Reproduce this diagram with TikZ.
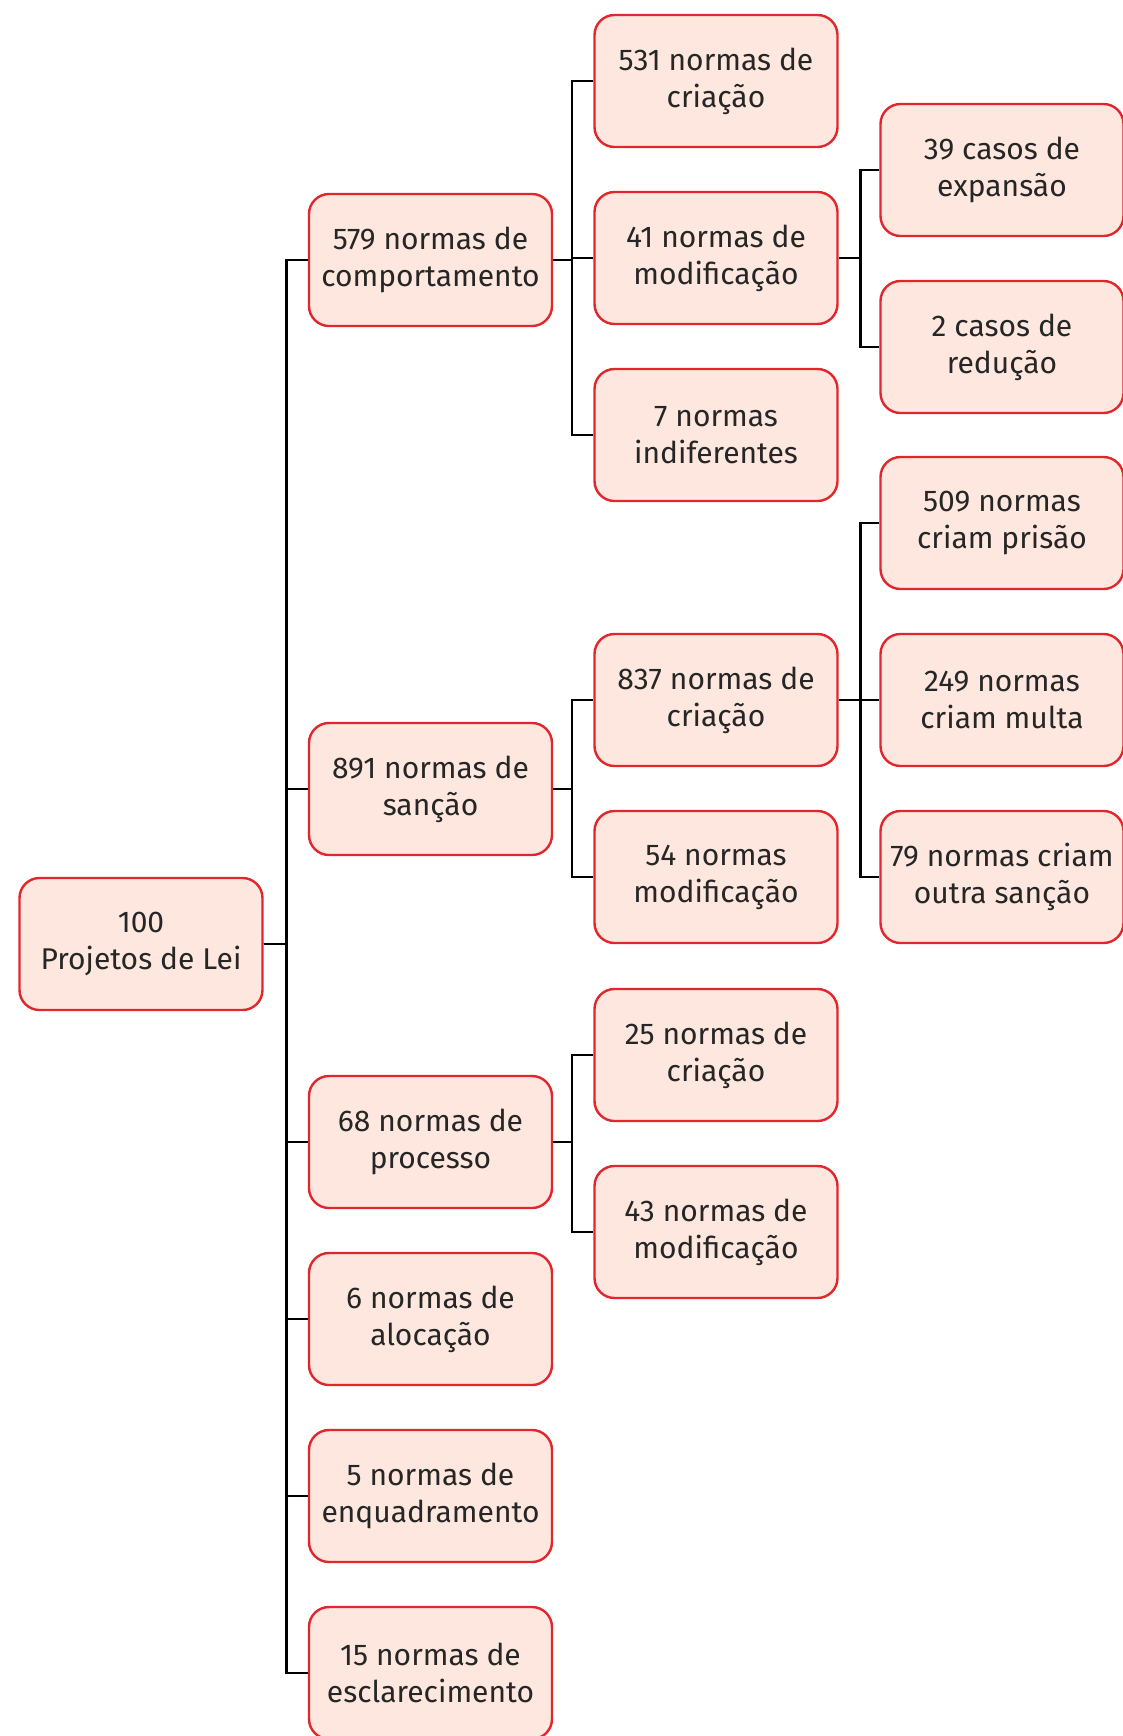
\documentclass[tikz,border=0pt]{standalone}
\usepackage{fontspec}
\setmainfont{Fira Sans}
\usetikzlibrary{positioning}
\definecolor{nrmred}{HTML}{E1262D}
\definecolor{nrmfill}{HTML}{FDE7DE}
\definecolor{nrmtext}{HTML}{262626}

\begin{document}
\begin{tikzpicture}[
    x=0.5pt, y=-0.5pt,
    node distance=21.3pt,
    normbox/.style={draw=nrmred, fill=nrmfill, line width=1.2pt, rounded corners=10pt, minimum width=121.5pt, minimum height=66pt, inner sep=2pt, align=center, text=nrmtext, font=\fontsize{15}{18.5}\selectfont},
    link/.style={line width=1.25pt, black},
]
    \useasboundingbox (0,0) rectangle (1123,1736);

    % root
    \node[normbox] (root) at (141,944) {100\\Projetos de Lei};

    % second level
    \node[normbox] (c579) at (430.5,260) {579 normas de\\comportamento};
    \node[normbox] (c891) at (430.5,789) {891 normas de\\sanção};
    \node[normbox] (c68) at (430.5,1142) {68 normas de\\processo};
    \node[normbox, below=of c68] (c6) {6 normas de\\alocação};
    \node[normbox, below=of c6] (c5) {5 normas de\\enquadramento};
    \node[normbox, below=of c5] (c15) {15 normas de\\esclarecimento};

    % third level
    \node[normbox] (c531) at (716,81) {531 normas de\\criação};
    \node[normbox, below=of c531] (c41) {41 normas de\\modificação};
    \node[normbox, below=of c41] (c7) {7 normas\\indiferentes};
    \node[normbox] (c837) at (716,700) {837 normas de\\criação};
    \node[normbox, below=of c837] (c54) {54 normas\\modificação};
    \node[normbox] (c25) at (716,1055) {25 normas de\\criação};
    \node[normbox, below=of c25] (c43) {43 normas de\\modificação};

    % fourth level
    \node[normbox] (c39) at (1002,170) {39 casos de\\expansão};
    \node[normbox, below=of c39] (c2) {2 casos de\\redução};
    \node[normbox] (c509) at (1002,523) {509 normas\\criam prisão};
    \node[normbox, below=of c509] (c249) {249 normas\\criam multa};
    \node[normbox, below=of c249] (c79) {79 normas criam\\outra sanção};

    % connectors
    \foreach \kid in {c579,c891,c68,c6,c5,c15}
        \draw[link] (root.east) -- ++(23,0) |- (\kid.west);
    \foreach \kid in {c531,c41,c7}
        \draw[link] (c579.east) -- ++(19,0) |- (\kid.west);
    \foreach \kid in {c837,c54}
        \draw[link] (c891.east) -- ++(19,0) |- (\kid.west);
    \foreach \kid in {c25,c43}
        \draw[link] (c68.east) -- ++(19,0) |- (\kid.west);
    \foreach \kid in {c39,c2}
        \draw[link] (c41.east) -- ++(22,0) |- (\kid.west);
    \foreach \kid in {c509,c249,c79}
        \draw[link] (c837.east) -- ++(22,0) |- (\kid.west);
\end{tikzpicture}
\end{document}
